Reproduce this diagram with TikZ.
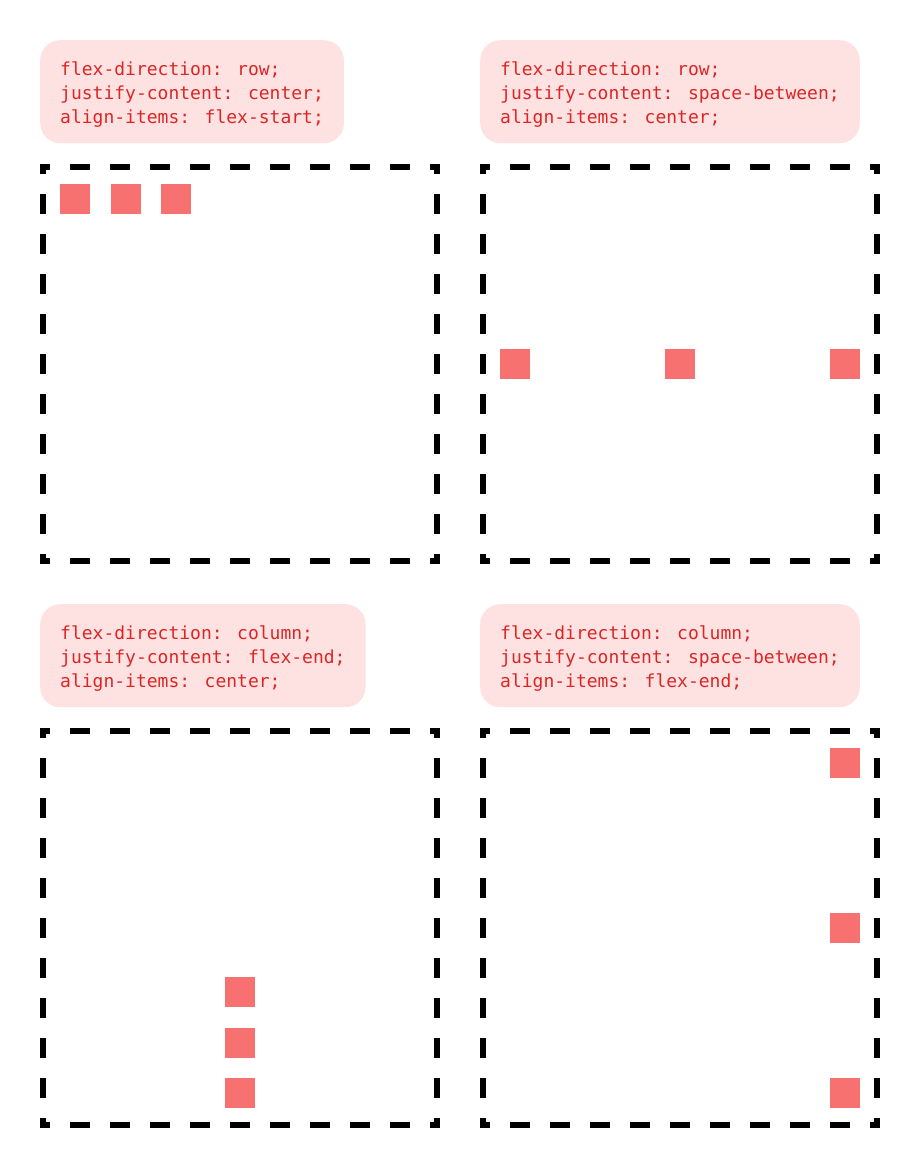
\documentclass[tikz,border=0pt]{standalone}
\usepackage{fontspec}
\usepackage{tikz}
\usetikzlibrary{positioning}
\newfontfamily\codefont{DejaVu Sans Mono}
\definecolor{notebg}{RGB}{254,226,226}
\definecolor{notetext}{RGB}{220,38,38}
\definecolor{itemred}{RGB}{248,113,113}

\begin{document}
\begin{tikzpicture}[x=1pt,y=-1pt, every node/.style={font=\codefont\fontsize{18pt}{24pt}\selectfont}]
    \tikzset{cssnote/.style={fill=notebg,text=notetext,rounded corners=20pt,align=left,anchor=north west,inner xsep=20pt,inner ysep=0pt,text height=83pt,text depth=20pt}}
    \tikzset{flexside/.style={line width=6pt,dash pattern=on 20pt off 20pt,dash phase=10pt}}
    \tikzset{item/.style={fill=itemred,draw=none,inner sep=0pt,minimum size=30pt,anchor=north west}}

    \useasboundingbox (0,0) rectangle (920,1168);

    % Notes above each container
    \node[cssnote] (noteA) at (40,40) {flex-direction: row;\\justify-content: center;\\align-items: flex-start;};
    \node[cssnote] (noteB) at (480,40) {flex-direction: row;\\justify-content: space-between;\\align-items: center;};
    \node[cssnote] (noteC) at (40,604) {flex-direction: column;\\justify-content: flex-end;\\align-items: center;};
    \node[cssnote] (noteD) at (480,604) {flex-direction: column;\\justify-content: space-between;\\align-items: flex-end;};

    % Dashed containers (outer corner at \x,\y, 400 x 400)
    \foreach \x/\y in {40/164, 480/164, 40/728, 480/728} {
      \draw[flexside] (\x,\y+3) -- (\x+400,\y+3);
      \draw[flexside] (\x,\y+397) -- (\x+400,\y+397);
      \draw[flexside] (\x+3,\y) -- (\x+3,\y+400);
      \draw[flexside] (\x+397,\y) -- (\x+397,\y+400);
    }

    % Items: row, packed at the start
    \node[item] (a1) at (60,184) {};
    \node[item,right=20pt of a1] (a2) {};
    \node[item,right=20pt of a2] (a3) {};

    % Items: row, spread out, centred vertically
    \node[item] (b1) at (500,349) {};
    \node[item] (b2) at (665,349) {};
    \node[item] (b3) at (830,349) {};

    % Items: column, packed at the end
    \node[item] (c3) at (225,1078) {};
    \node[item,above=20pt of c3] (c2) {};
    \node[item,above=20pt of c2] (c1) {};

    % Items: column, spread out, at the right
    \node[item] (d1) at (830,748) {};
    \node[item] (d2) at (830,913) {};
    \node[item] (d3) at (830,1078) {};
  \end{tikzpicture}
\end{document}
